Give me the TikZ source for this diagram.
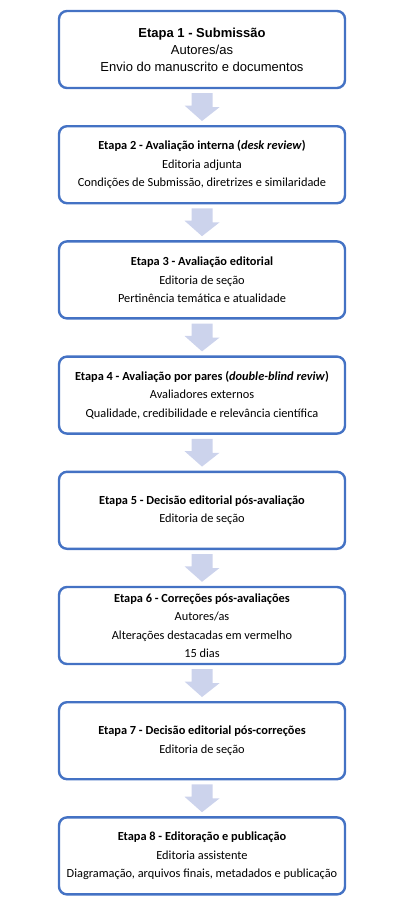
\documentclass[tikz,border=0pt]{standalone}
\usepackage{fontspec}
\setmainfont{Carlito}
\newfontfamily\arialfont{Liberation Sans}
\definecolor{boxblue}{RGB}{68,114,196}
\definecolor{arrowfill}{RGB}{204,211,236}
\begin{document}
\begin{tikzpicture}[x=1pt,y=1pt,
  stagebox/.style={draw=boxblue, line width=2.4pt, rounded corners=8pt, fill=white,
    minimum width=286pt, minimum height=77pt, inner sep=0pt, align=center,
    font=\fontsize{12.35}{18.5}\selectfont},
  downarrow/.style={fill=arrowfill, draw=none}]
\useasboundingbox (0,0) rectangle (406,-905);
\def\pitch{115.2}
\node[stagebox, font=\arialfont\fontsize{13}{17}\selectfont] (s1) at (202,-49.5)
  {\textbf{Etapa 1 - Submissão}\\Autores/as\\Envio do manuscrito e documentos};
\node[stagebox] (s2) at (202,-49.5-1*\pitch)
  {\textbf{Etapa 2 - Avaliação interna (\textit{desk review})}\\Editoria adjunta\\Condições de Submissão, diretrizes e similaridade};
\node[stagebox] (s3) at (202,-49.5-2*\pitch)
  {\textbf{Etapa 3 - Avaliação editorial}\\Editoria de seção\\Pertinência temática e atualidade};
\node[stagebox] (s4) at (202,-49.5-3*\pitch)
  {\textbf{Etapa 4 - Avaliação por pares (\textit{double-blind reviw})}\\Avaliadores externos\\Qualidade, credibilidade e relevância científica};
\node[stagebox] (s5) at (202,-49.5-4*\pitch)
  {\textbf{Etapa 5 - Decisão editorial pós-avaliação}\\Editoria de seção};
\node[stagebox] (s6) at (202,-49.5-5*\pitch)
  {\textbf{Etapa 6 - Correções pós-avaliações}\\Autores/as\\Alterações destacadas em vermelho\\15 dias};
\node[stagebox] (s7) at (202,-49.5-6*\pitch)
  {\textbf{Etapa 7 - Decisão editorial pós-correções}\\Editoria de seção};
\node[stagebox] (s8) at (202,-49.5-7*\pitch)
  {\textbf{Etapa 8 - Editoração e publicação}\\Editoria assistente\\Diagramação, arquivos finais, metadados e publicação};
\foreach \a/\b in {s1/s2,s2/s3,s3/s4,s4/s5,s5/s6,s6/s7,s7/s8}{
  \path (\a.south) ++(0,-4) coordinate (t\a);
  \path (\b.north) ++(0,4) coordinate (h\a);
  \fill[arrowfill] (t\a) ++(-10.5,0) -- ++(21,0) -- ++(0,-14) -- ++(7,0)
     -- (h\a) -- ++(-17.5,15.5) -- ++(7,0) -- cycle;
}
\end{tikzpicture}
\end{document}
